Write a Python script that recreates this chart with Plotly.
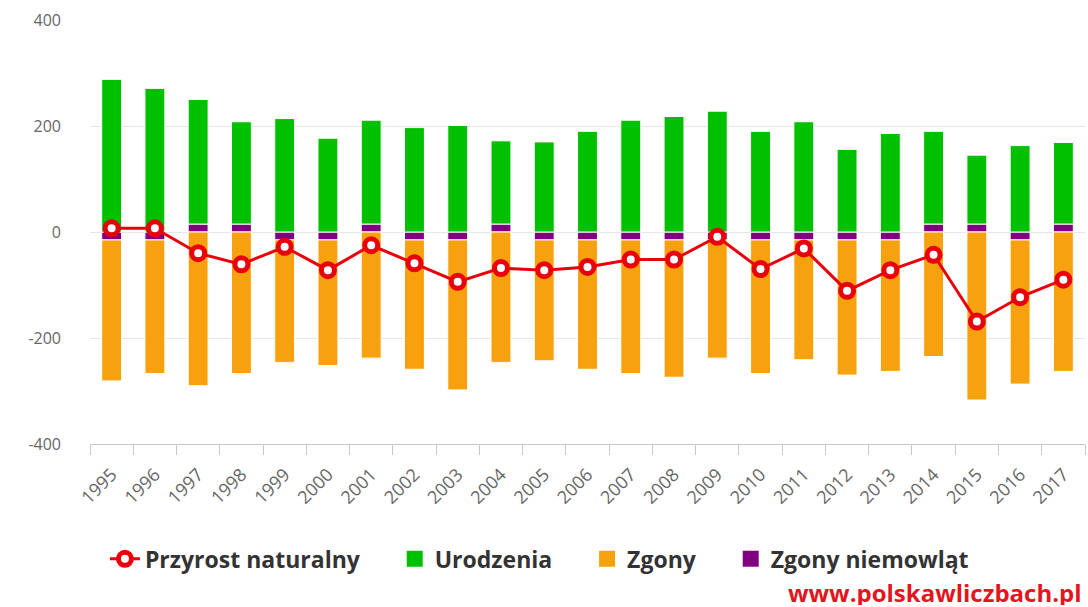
import plotly.graph_objects as go

years = [str(y) for y in range(1995, 2018)]
urodzenia = [288, 271, 235, 193, 214, 177, 196, 197, 201, 157, 170, 190, 211, 218, 228, 190, 208, 156, 186, 175, 130, 163, 154]
zgony = [-266, -252, -290, -267, -231, -237, -238, -244, -283, -246, -228, -244, -252, -259, -223, -252, -226, -255, -248, -235, -317, -272, -263]
zgony_niemowlat = [-15, -15, 15, 15, -15, -15, 15, -15, -15, 15, -15, -15, -15, -15, -15, -15, -15, -15, -15, 15, 15, -15, 15]
przyrost = [7, 7, -40, -61, -28, -72, -25, -59, -94, -68, -72, -66, -52, -52, -9, -70, -31, -111, -72, -43, -169, -123, -90]
y_ticks = [-400, -200, 0, 200, 400]
y_tick_labels = ["-400", "-200", "0", "200", "400"]

FONT = "Open Sans"
C_GREEN, C_ORANGE, C_PURPLE, C_RED = "#00c000", "#f8a10f", "#800080", "#e8000b"
PAD = "\u00a0" * 5

fig = go.Figure()
bar_line = dict(color="white", width=1)
fig.add_trace(go.Bar(x=years, y=zgony_niemowlat, name="Zgony niemowląt", showlegend=False,
                     marker=dict(color=C_PURPLE, line=bar_line)))
fig.add_trace(go.Bar(x=years, y=urodzenia, name="Urodzenia", showlegend=False,
                     marker=dict(color=C_GREEN, line=bar_line)))
fig.add_trace(go.Bar(x=years, y=zgony, name="Zgony", showlegend=False,
                     marker=dict(color=C_ORANGE, line=bar_line)))
fig.add_trace(go.Scatter(x=years, y=przyrost, name="Przyrost naturalny" + PAD, mode="lines+markers",
                         line=dict(color=C_RED, width=3),
                         marker=dict(symbol="circle", size=13, color="white",
                                     line=dict(color=C_RED, width=5)),
                         legendrank=1))
# legend proxies (square symbols like the reference)
for name, col, rank in [("Urodzenia" + PAD, C_GREEN, 2), ("Zgony" + PAD, C_ORANGE, 3),
                        ("Zgony niemowląt", C_PURPLE, 4)]:
    fig.add_trace(go.Scatter(x=[None], y=[None], mode="markers", name=name, legendrank=rank,
                             marker=dict(symbol="square", size=20, color=col)))

fig.update_layout(
    width=1088, height=607,
    margin=dict(l=90, r=3, t=20, b=163, autoexpand=False),
    barmode="relative", bargap=0.54,
    plot_bgcolor="white", paper_bgcolor="white",
    font=dict(family=FONT, color="#666666", size=16),
    showlegend=True,
    legend=dict(orientation="h", x=0.015, xanchor="left", y=-0.271, yanchor="middle",
                font=dict(family=FONT, size=23, color="#333333", weight="bold"),
                traceorder="normal", itemsizing="trace"),
    annotations=[dict(text="<b>www.polskawliczbach.pl</b>", xref="paper", yref="paper",
                      x=0.998, y=-0.382, xanchor="right", yanchor="bottom", showarrow=False,
                      height=26, valign="middle", borderpad=0,
                      font=dict(family=FONT, size=24, color="#e3161e"))],
)
fig.update_xaxes(type="category", range=[-0.5, len(years) - 0.5], autorange=False,
                 tickangle=-45, showline=True, linecolor="#c8c8c8", linewidth=1,
                 ticks="outside", ticklen=10, tickcolor="#c8c8c8", tickson="boundaries",
                 ticklabelstandoff=12, automargin=False,
                 showgrid=False, tickfont=dict(size=18, color="#666666"))
fig.update_yaxes(range=[-400, 400], tickvals=y_ticks, ticktext=y_tick_labels, showgrid=True,
                 gridcolor="#e6e6e6", gridwidth=1, zeroline=False, showline=False,
                 automargin=False, ticklabelstandoff=28, tickfont=dict(size=16, color="#666666"))

# remove the default 8px page margin so the figure fills the window exactly
fig.write_html("out.html", config={"displayModeBar": False},
               post_script="document.body.style.margin='0';document.body.style.overflow='hidden';")
